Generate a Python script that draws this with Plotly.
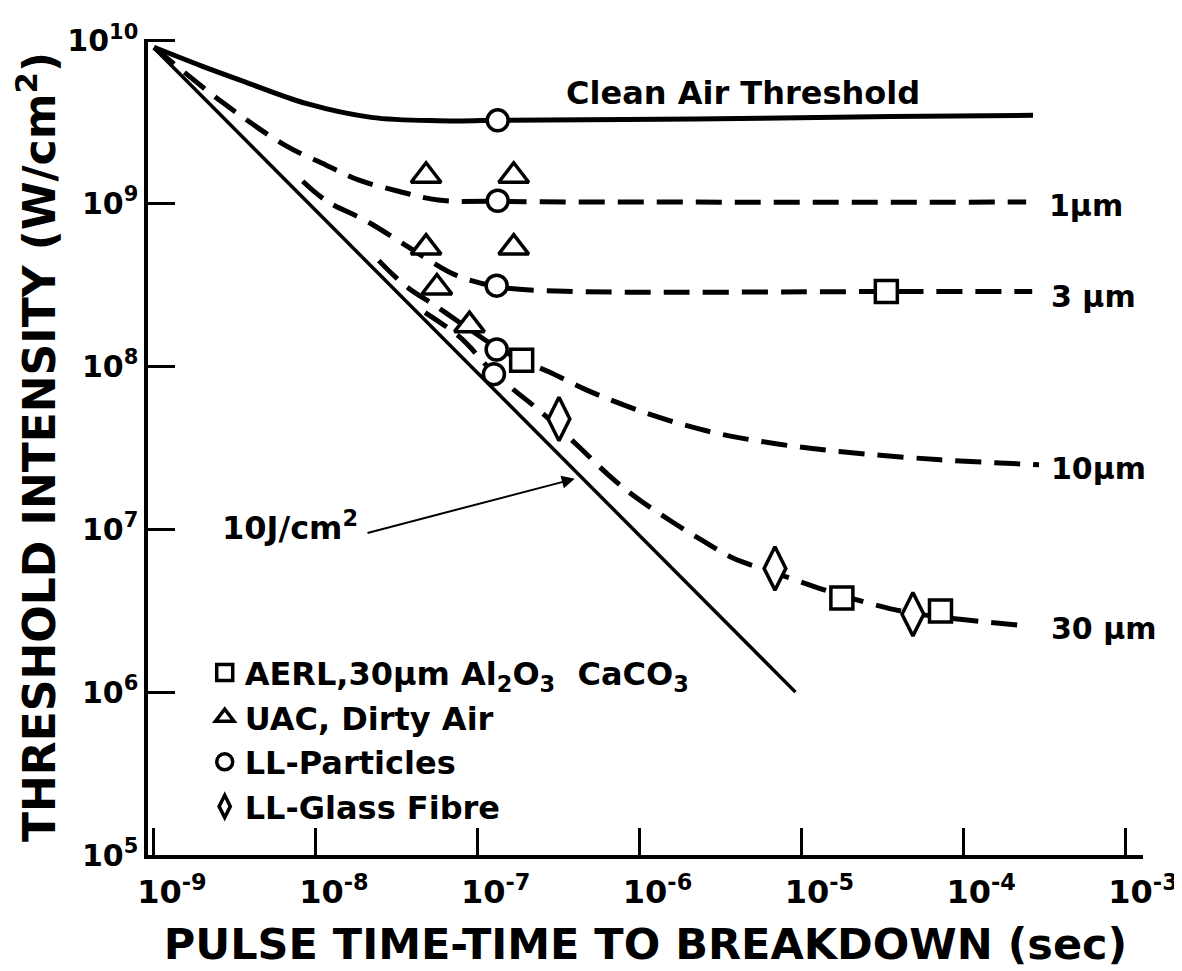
import plotly.graph_objects as go

# ----------------------------------------------------------
# Data (t in sec, I in W/cm^2)
# ----------------------------------------------------------

clean_t = [1.0e-9, 1.96e-9, 3.44e-9, 8.8e-9, 2.2e-8, 5.7e-8, 1.35e-7, 2.2e-6, 3.6e-5, 2.7e-4]
clean_i = [9.1e9, 7.0e9, 5.7e9, 4.1e9, 3.38e9, 3.22e9, 3.24e9, 3.3e9, 3.42e9, 3.48e9]

um1_t = [1.0e-9, 2.7e-9, 6.6e-9, 1.16e-8, 1.85e-8, 3.24e-8, 5.7e-8, 1.3e-7, 2.2e-6, 2.45e-4]
um1_i = [9.1e9, 4.12e9, 2.25e9, 1.72e9, 1.39e9, 1.19e9, 1.05e9, 1.03e9, 1.02e9, 1.02e9]

um3_t = [8.3e-9, 1.16e-8, 2.04e-8, 3.24e-8, 4.73e-8, 7.2e-8, 1.31e-7, 3.05e-7, 3.35e-5, 2.67e-4]
um3_i = [1.37e9, 1.04e9, 7.83e8, 5.91e8, 4.65e8, 3.66e8, 3.09e8, 2.9e8, 2.88e8, 2.88e8]

um10_t = [2.45e-8, 3.57e-8, 5.68e-8, 8.9e-8, 1.31e-7, 1.87e-7, 2.77e-7, 4.65e-7,
          1.08e-6, 2.76e-6, 6.97e-6, 1.78e-5, 7.24e-5, 2.94e-4]
um10_i = [4.46e8, 3.13e8, 2.30e8, 1.69e8, 1.31e8, 1.09e8, 9.23e7, 7.2e7,
          5.2e7, 3.96e7, 3.35e7, 2.99e7, 2.67e7, 2.49e7]

um30_t = [4.73e-8, 7.83e-8, 1.26e-7, 2.55e-7, 4.22e-7, 6.79e-7, 9.77e-7, 1.57e-6,
          2.5e-6, 3.81e-6, 6.87e-6, 1.35e-5, 2.6e-5, 4.89e-5, 2.22e-4]
um30_i = [2.14e8, 1.5e8, 9.1e7, 5.1e7, 3.21e7, 2.05e7, 1.54e7, 1.12e7,
          8.42e6, 6.63e6, 5.4e6, 4.28e6, 3.52e6, 3.05e6, 2.58e6]

fluence_t = [1.0e-9, 9.2e-6]
fluence_i = [9.0e9, 1.0e6]

aerl_t = [1.87e-7, 3.35e-5, 1.78e-5, 7.24e-5]
aerl_i = [1.09e8, 2.88e8, 3.78e6, 3.15e6]

uac_t = [4.8e-8, 1.67e-7, 4.8e-8, 1.67e-7, 5.6e-8, 8.9e-8]
uac_i = [1.48e9, 1.48e9, 5.36e8, 5.36e8, 3.05e8, 1.79e8]

ll_part_t = [1.33e-7, 1.33e-7, 1.31e-7, 1.31e-7, 1.26e-7]
ll_part_i = [3.24e9, 1.04e9, 3.13e8, 1.27e8, 8.96e7]

ll_glass_t = [3.18e-7, 6.87e-6, 4.89e-5]
ll_glass_i = [4.75e7, 5.75e6, 3.01e6]

x_ticks = [1e-9, 1e-8, 1e-7, 1e-6, 1e-5, 1e-4, 1e-3]
x_labels = ["10<sup>-9</sup>", "10<sup>-8</sup>", "10<sup>-7</sup>", "10<sup>-6</sup>",
            "10<sup>-5</sup>", "10<sup>-4</sup>", "10<sup>-3</sup>"]
y_ticks = [1e5, 1e6, 1e7, 1e8, 1e9, 1e10]
y_labels = ["10<sup>5</sup>", "10<sup>6</sup>", "10<sup>7</sup>", "10<sup>8</sup>",
            "10<sup>9</sup>", "10<sup>10</sup>"]

FONT = "DejaVu Sans"
DASH = "26px,13px"

fig = go.Figure()

# Curves
fig.add_trace(go.Scatter(x=clean_t, y=clean_i, mode="lines", line_shape="spline",
                         line=dict(color="black", width=5), showlegend=False))
fig.add_trace(go.Scatter(x=fluence_t, y=fluence_i, mode="lines",
                         line=dict(color="black", width=3.5), showlegend=False))

for t, i in [(um1_t, um1_i), (um3_t, um3_i), (um10_t, um10_i), (um30_t, um30_i)]:
    fig.add_trace(go.Scatter(x=t, y=i, mode="lines", line_shape="spline",
                             line=dict(color="black", width=5, dash=DASH),
                             showlegend=False))

# Measured points
def add_points(t, i, symbol, size, name):
    fig.add_trace(go.Scatter(
        x=t, y=i, mode="markers", name=name,
        marker=dict(symbol=symbol, size=size, color="white",
                    line=dict(color="black", width=3.5))
    ))

add_points(aerl_t, aerl_i, "square", 22,
           "AERL,30\u00b5m Al<sub>2</sub>O<sub>3</sub>\u00a0\u00a0CaCO<sub>3</sub>")
add_points(uac_t, uac_i, "triangle-up", 26, "UAC, Dirty Air")
add_points(ll_part_t, ll_part_i, "circle", 21, "LL-Particles")
add_points(ll_glass_t, ll_glass_i, "diamond-tall", 31, "LL-Glass Fibre")

# Curve labels (positions in log units)
labels = [
    ("Clean Air Threshold", -5.36, 9.676, "center", 32),
    ("1\u00b5m", -3.48, 8.985, "left", 30),
    ("3 \u00b5m", -3.47, 8.429, "left", 30),
    ("10\u00b5m", -3.47, 7.372, "left", 30),
    ("30 \u00b5m", -3.47, 6.388, "left", 30),
    ("10J/cm<sup>2</sup>", -8.59, 7.02, "left", 32),
]
for text, lx, ly, anchor, size in labels:
    fig.add_annotation(x=lx, y=ly, xref="x", yref="y", text=text, showarrow=False,
                       xanchor=anchor, yanchor="middle",
                       font=dict(family=FONT, size=size, color="black", weight="bold"))

# Arrow pointing at the 10 J/cm^2 line
fig.add_annotation(x=-6.40, y=7.31, ax=-7.69, ay=6.975, xref="x", yref="y",
                   axref="x", ayref="y", text="", showarrow=True,
                   arrowhead=2, arrowsize=1.3, arrowwidth=2, arrowcolor="black")

fig.update_xaxes(
    type="log", range=[-9.037, -2.889],
    tickvals=x_ticks, ticktext=x_labels,
    ticks="inside", ticklen=27, tickwidth=3, tickcolor="black",
    ticklabelshift=18, ticklabelstandoff=6,
    showline=True, linewidth=3.5, linecolor="black", mirror=False,
    showgrid=False, zeroline=False,
    tickfont=dict(family=FONT, size=32, color="black", weight="bold"),
    title=dict(text="PULSE TIME-TIME TO BREAKDOWN (sec)", standoff=20,
               font=dict(family=FONT, size=43, color="black", weight="bold"))
)

fig.update_yaxes(
    type="log", range=[5, 10.01],
    tickvals=y_ticks, ticktext=y_labels,
    ticks="inside", ticklen=27, tickwidth=3, tickcolor="black",
    showline=True, linewidth=3.5, linecolor="black", mirror=False,
    showgrid=False, zeroline=False,
    tickfont=dict(family=FONT, size=30, color="black", weight="bold"),
    title=dict(text="THRESHOLD INTENSITY (W/cm<sup>2</sup>)", standoff=14,
               font=dict(family=FONT, size=44, color="black", weight="bold"))
)

# the page body adds an 8px offset, so the margins are shifted to compensate
fig.update_layout(
    width=1182, height=971,
    margin=dict(l=140, r=35, t=29, b=124),
    plot_bgcolor="white", paper_bgcolor="white",
    font=dict(family=FONT, color="black"),
    legend=dict(x=0.057, y=0.257, xanchor="left", yanchor="top",
                bgcolor="rgba(0,0,0,0)", borderwidth=0,
                font=dict(family=FONT, size=32, color="black", weight="bold"),
                itemsizing="trace")
)

fig.write_html("out.html")
